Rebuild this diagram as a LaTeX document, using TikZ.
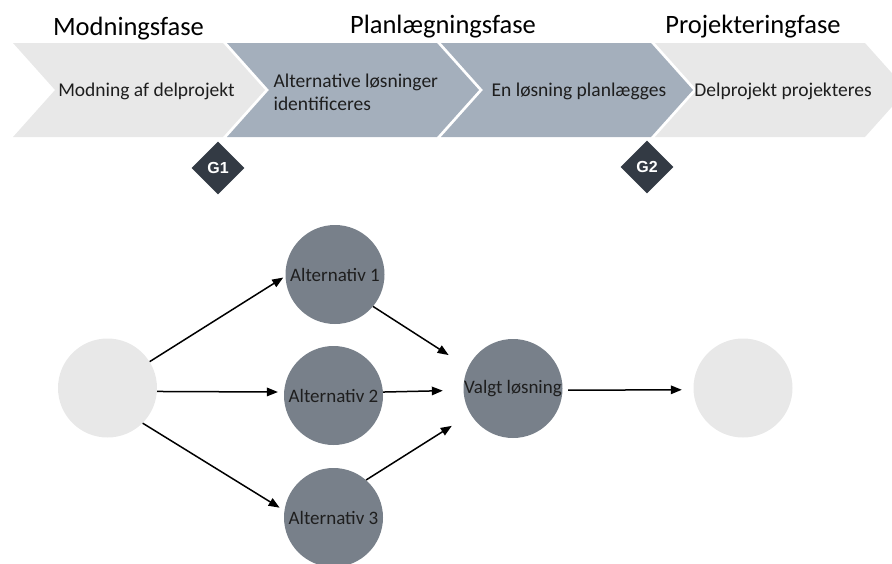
\documentclass[tikz,border=0pt]{standalone}
\usepackage{fontspec}
\setmainfont{Carlito}
\newfontfamily\gatefont{Liberation Sans}
\usetikzlibrary{arrows.meta,shapes.geometric}

\definecolor{chevlight}{HTML}{E8E8E8}
\definecolor{chevblue}{HTML}{A4AFBC}
\definecolor{altgray}{HTML}{78808A}
\definecolor{gatedark}{HTML}{333A44}
\definecolor{txt}{HTML}{1E1E1E}

\begin{document}
\begin{tikzpicture}[x=1pt,y=-1pt,
  phase/.style={font=\fontsize{26.5}{30}\selectfont, text=black, anchor=base},
  chevtext/.style={font=\fontsize{19.5}{23}\selectfont, text=txt},
  gate/.style={diamond, fill=gatedark, minimum width=53pt, minimum height=53pt,
    inner sep=0pt, text=white, font=\gatefont\bfseries\fontsize{16}{18}\selectfont},
  stage/.style={circle, minimum size=99pt, inner sep=0pt,
    font=\fontsize{19}{22}\selectfont, text=txt},
  flow/.style={-{Triangle[length=11pt,width=8.5pt]}, line width=1.5pt, black},
  chevron/.pic={\fill[pic actions] (0,0) -- (210,0) -- (252,47) -- (210,94)
    -- (0,94) -- (42,47) -- cycle;}
]
\useasboundingbox (0,0) rectangle (892,563);
\clip (0,0) rectangle (892,563);

% phase band
\pic[fill=chevlight] at (13,43) {chevron};
\pic[fill=chevblue]  at (227,43) {chevron};
\pic[fill=chevblue]  at (441,43) {chevron};
\pic[fill=chevlight] at (655,43) {chevron};

% phase titles
\node[phase] (tmod)  at (128.5,35) {Modningsfase};
\node[phase] (tplan) at (443,33) {Planlægningsfase};
\node[phase] (tproj) at (753,33) {Projekteringfase};

% stage texts
\node[chevtext] (c1) at (146.5,91) {Modning af delprojekt};
\node[chevtext, align=left, anchor=west] (c2) at (270,92)
  {Alternative løsninger\\identificeres};
\node[chevtext] (c3) at (579,91) {En løsning planlægges};
\node[chevtext] (c4) at (783,91) {Delprojekt projekteres};

% gates
\node[gate] (g1) at (218,168) {G1};
\node[gate] (g2) at (647,167) {G2};

% solution flow
\node[stage, fill=chevlight] (start) at (107.5,388) {};
\node[stage, fill=altgray] (alt1) at (335,274.5) {Alternativ 1};
\node[stage, fill=altgray] (alt2) at (333.5,395.5) {Alternativ 2};
\node[stage, fill=altgray] (alt3) at (333.5,517.5) {Alternativ 3};
\node[stage, fill=altgray] (valgt) at (513,388.5) {Valgt løsning};
\node[stage, fill=chevlight] (done) at (743,388) {};

\draw[flow, shorten >=2.5pt] (start.32.4) -- (alt1.182.75);
\draw[flow, shorten >=6pt]   (start.-4.6) -- (alt2.176.4);
\draw[flow, shorten >=5.5pt] (start.-45.4) -- (alt3.172.2);
\draw[flow, shorten >=23pt]  (alt1.-40.5) -- (valgt.155.2);
\draw[flow, shorten >=20.5pt] (alt2.4) -- (valgt.182.9);
\draw[flow, shorten >=22pt]  (alt3.49.8) -- (valgt.211.6);
\draw[flow, shorten <=5.5pt, shorten >=11.5pt] (valgt.-2.6) -- (done.182.8);
\end{tikzpicture}
\end{document}
